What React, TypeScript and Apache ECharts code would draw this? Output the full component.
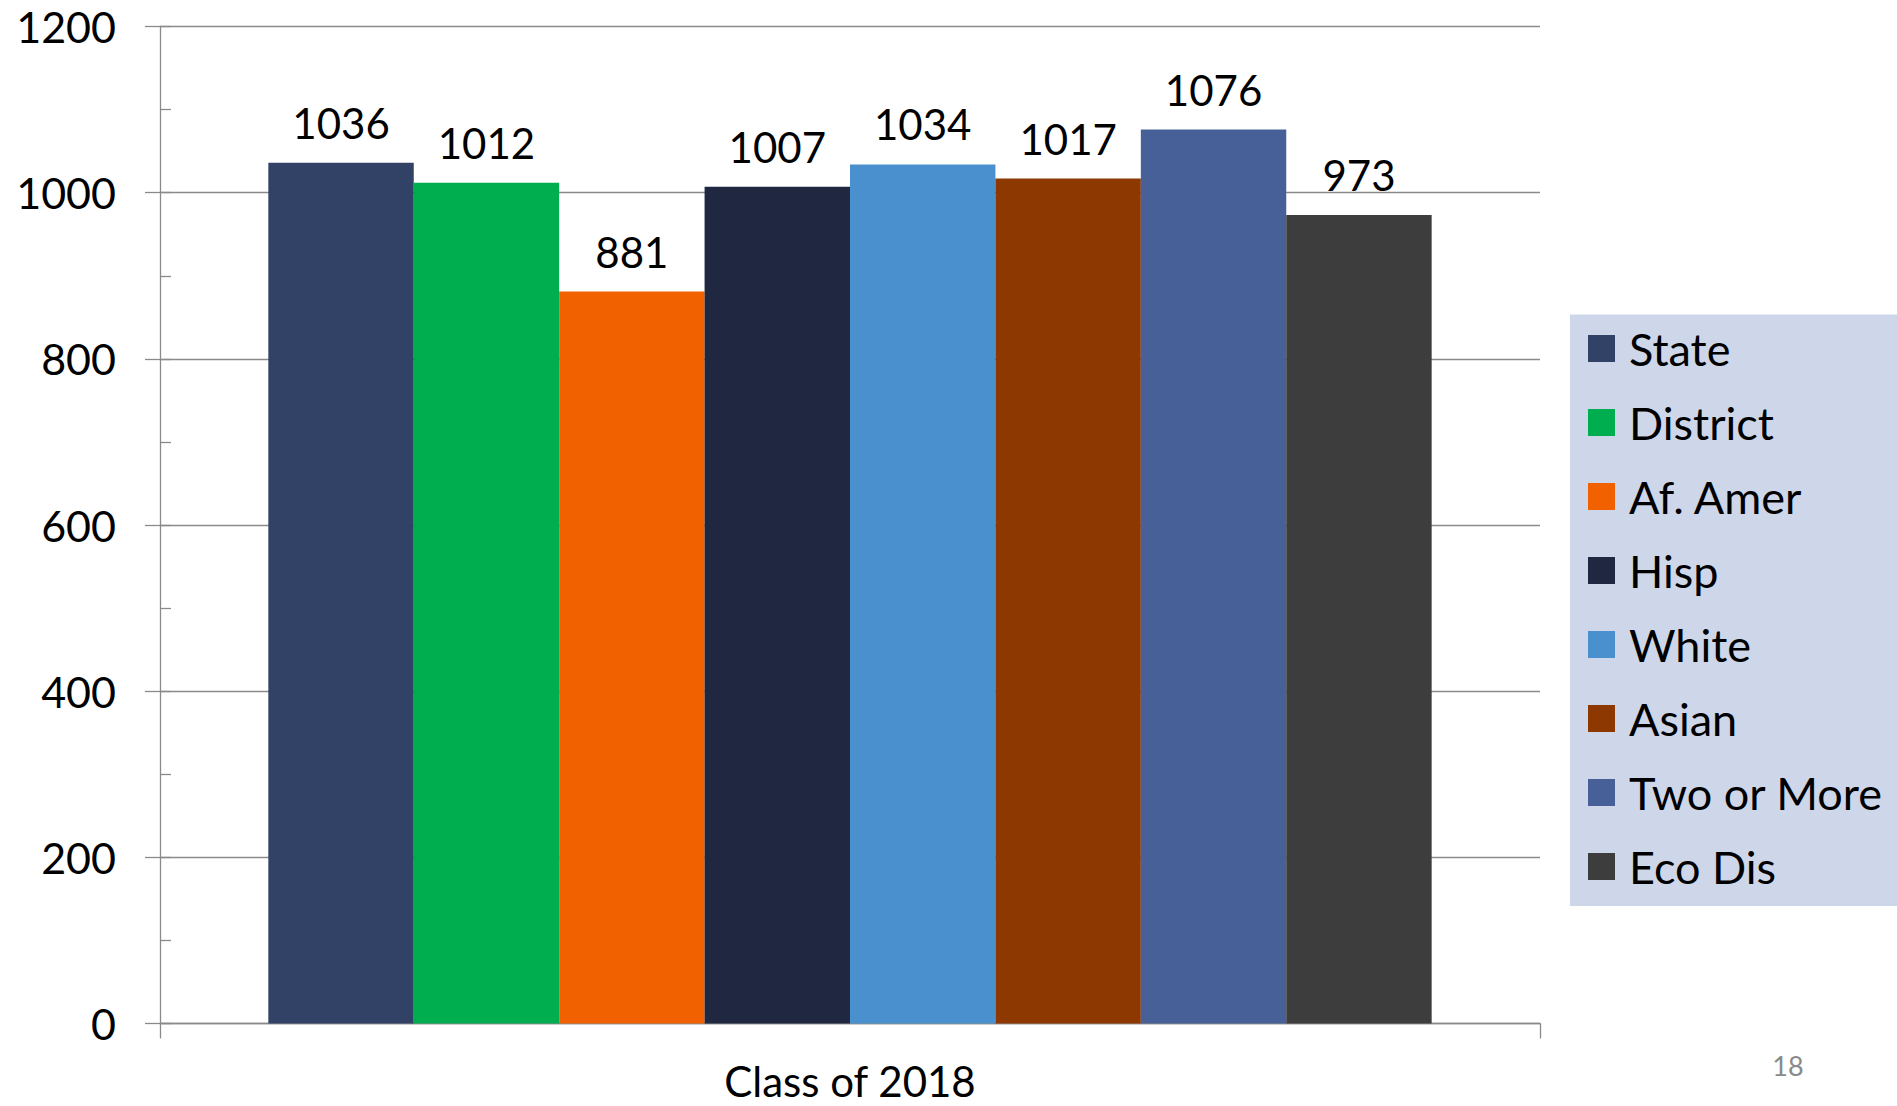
import React, { useEffect, useRef } from "react";
import * as echarts from "echarts";

const categories = ["Class of 2018"];
const seriesNames = ["State", "District", "Af. Amer", "Hisp", "White", "Asian", "Two or More", "Eco Dis"];
const seriesValues = [1036, 1012, 881, 1007, 1034, 1017, 1076, 973];
const seriesColors = ["#314266", "#00AE4F", "#F26100", "#1F2840", "#4A8FCE", "#8D3800", "#476098", "#3D3D3D"];
const yTicks = { min: 0, max: 1200, interval: 200 };
const pageNumber = "18";

const FONT = "Lato";

export default function App() {
  const ref = useRef<HTMLDivElement>(null);
  useEffect(() => {
    if (!ref.current) return;
    const chart = echarts.init(ref.current, undefined, { renderer: "svg" });
    const axisColor = "#8a8a8a";
    const option: any = {
      animation: false,
      backgroundColor: "#ffffff",
      textStyle: { fontFamily: FONT },
      grid: { left: 160, right: 357, top: 26.5, bottom: 82.5, containLabel: false },
      xAxis: {
        type: "category",
        data: categories,
        axisLine: { show: true, lineStyle: { color: axisColor, width: 1.3 } },
        axisTick: { show: true, length: 15, lineStyle: { color: axisColor, width: 1.3 } },
        axisLabel: { color: "#000", fontFamily: FONT, fontSize: 42, lineHeight: 34, margin: 40 },
      },
      yAxis: [
        {
          type: "value",
          min: yTicks.min,
          max: yTicks.max,
          interval: yTicks.interval,
          axisLine: { show: true, lineStyle: { color: axisColor, width: 1.3 } },
          axisTick: { show: true, length: 15, lineStyle: { color: axisColor, width: 1.3 } },
          splitLine: { show: true, lineStyle: { color: axisColor, width: 1.3 } },
          axisLabel: { color: "#000", fontFamily: FONT, fontSize: 43, margin: 44, formatter: (v: number) => String(v) },
        },
        {
          type: "value",
          min: yTicks.min,
          max: yTicks.max,
          interval: yTicks.interval / 2,
          position: "left",
          axisLine: { show: false },
          axisTick: { show: true, inside: true, length: 11, lineStyle: { color: axisColor, width: 1.3 } },
          splitLine: { show: false },
          axisLabel: { show: false },
        },
      ],
      legend: {
        orient: "vertical",
        left: 1583,
        top: 321,
        icon: "rect",
        itemWidth: 27,
        itemHeight: 27,
        itemGap: 29,
        data: seriesNames,
        textStyle: { color: "#000", fontFamily: FONT, fontSize: 45, lineHeight: 40, padding: [0, 0, 0, 9] },
      },
      graphic: [
        {
          type: "rect",
          z: -1,
          shape: { x: 1570, y: 314.6, width: 330, height: 591.4 },
          style: { fill: "#CED7EA" },
          silent: true,
        },
        {
          type: "text",
          x: 1788,
          y: 1065,
          style: { text: pageNumber, fill: "#8a8a8a", font: `27px ${FONT}`, textAlign: "center", textVerticalAlign: "middle" },
        },
      ],
      series: seriesNames.map((name, i) => ({
        name,
        type: "bar",
        yAxisIndex: 0,
        data: [seriesValues[i]],
        barGap: "0%",
        barCategoryGap: "15.7%",
        itemStyle: { color: seriesColors[i] },
        label: { show: true, position: "top", distance: 19, color: "#000", fontFamily: FONT, fontSize: 42 },
      })),
    };
    chart.setOption(option);
    return () => chart.dispose();
  }, []);
  return <div ref={ref} style={{ position: "fixed", left: 0, top: 0, width: 1897, height: 1106 }} />;
}
